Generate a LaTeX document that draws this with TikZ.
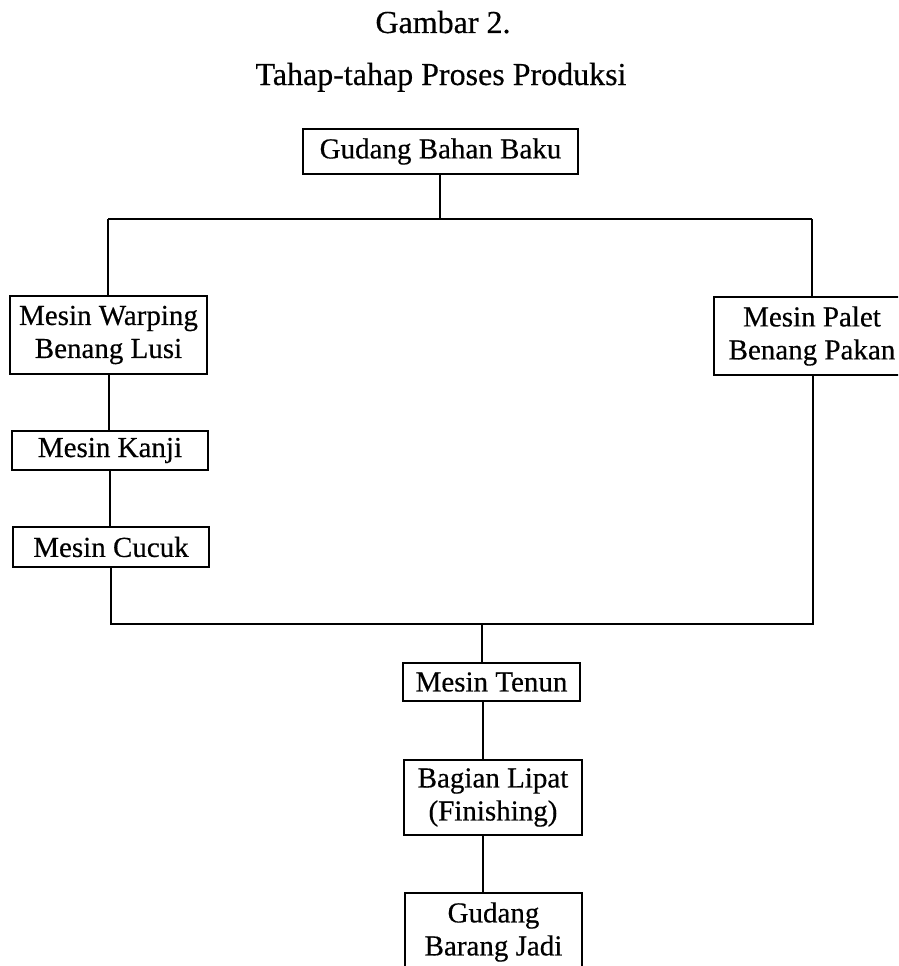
\documentclass[tikz,border=0pt]{standalone}
\usepackage{fontspec}
\setmainfont[FakeBold=0.4]{Liberation Serif}
\begin{document}
\begin{tikzpicture}[x=1pt,y=-1pt,line width=1.4pt,
  box/.style={draw, rectangle, align=center, inner sep=0pt,
    font=\fontsize{29}{33}\selectfont},
  ttl/.style={inner sep=0pt, anchor=base, font=\fontsize{32}{36}\selectfont},
  conn/.style={draw, line width=1.4pt}]
\useasboundingbox (0,0) rectangle (898,966);
\clip (0,0) rectangle (898,966);
% titles
\node[ttl] (t1) at (443,33) {Gambar 2.};
\node[ttl] (t2) at (441,85) {Tahap-tahap Proses Produksi};
% boxes
\node[box, minimum width=275pt, minimum height=45pt] (gbb) at (440.5,151.5) {Gudang Bahan Baku};
\node[box, minimum width=197pt, minimum height=78pt] (warp) at (108.5,335) {Mesin Warping\\Benang Lusi};
\node[box, minimum width=196pt, minimum height=39pt] (kanji) at (110,450.5) {Mesin Kanji};
\node[box, minimum width=196pt, minimum height=40pt] (cucuk) at (111,547) {Mesin Cucuk};
\node[box, minimum width=196pt, minimum height=78pt] (palet) at (812,336) {Mesin Palet\\Benang Pakan};
\node[box, minimum width=177pt, minimum height=38pt] (tenun) at (491.5,682) {Mesin Tenun};
\node[box, minimum width=178pt, minimum height=75pt] (lipat) at (493,797.5) {Bagian Lipat\\(Finishing)};
\node[box, minimum width=177pt, minimum height=78pt] (gbj) at (493.5,932) {Gudang\\Barang Jadi};
% junction coordinates
\coordinate (jt) at (440,219);
\coordinate (jtl) at (108,219);
\coordinate (jtr) at (812,219);
\coordinate (jbl) at (111,624);
\coordinate (jbr) at (813,624);
\coordinate (jbm) at (482,624);
\coordinate (xk) at (109,0);
\coordinate (xc) at (110,0);
\coordinate (xl) at (483,0);
% connectors
\draw[conn] (gbb.south -| jt) -- (jt);
\draw[conn] (jtl) -- (jtr);
\draw[conn] (jtl) -- (warp.north -| jtl);
\draw[conn] (jtr) -- (palet.north -| jtr);
\draw[conn] (warp.south -| xk) -- (kanji.north -| xk);
\draw[conn] (kanji.south -| xc) -- (cucuk.north -| xc);
\draw[conn] (cucuk.south -| jbl) -- (jbl) -- (jbr) -- (palet.south -| jbr);
\draw[conn] (jbm) -- (tenun.north -| jbm);
\draw[conn] (tenun.south -| xl) -- (lipat.north -| xl);
\draw[conn] (lipat.south -| xl) -- (gbj.north -| xl);
\end{tikzpicture}
\end{document}
